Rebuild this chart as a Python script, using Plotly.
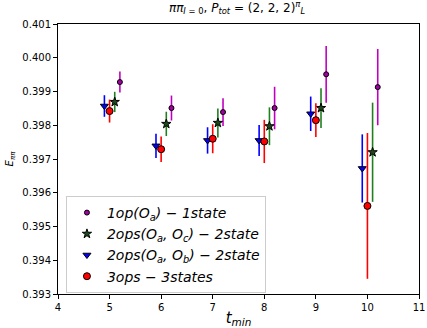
import plotly.graph_objects as go

tmin = [5, 6, 7, 8, 9, 10]

# 1op(Oa) - 1state
e1 = [0.39928, 0.39851, 0.39839, 0.39851, 0.39951, 0.39913]
d1 = [0.00031, 0.00037, 0.00041, 0.00063, 0.00084, 0.00113]
# 2ops(Oa,Oc) - 2state
e2 = [0.39869, 0.39804, 0.39807, 0.39797, 0.39851, 0.39720]
d2 = [0.00030, 0.00036, 0.00043, 0.00056, 0.00059, 0.00147]
# 2ops(Oa,Ob) - 2state
e3 = [0.39857, 0.39739, 0.39755, 0.39755, 0.39834, 0.39672]
d3 = [0.00032, 0.00036, 0.00039, 0.00046, 0.00051, 0.00101]
# 3ops - 3states
e4 = [0.39842, 0.39729, 0.39760, 0.39752, 0.39815, 0.39561]
d4 = [0.00034, 0.00038, 0.00043, 0.00064, 0.00050, 0.00216]

names = [
    "<i>1op(O<sub>a</sub>)</i> − <i>1state</i>",
    "<i>2ops(O<sub>a</sub>, O<sub>c</sub>)</i> − <i>2state</i>",
    "<i>2ops(O<sub>a</sub>, O<sub>b</sub>)</i> − <i>2state</i>",
    "<i>3ops</i> − <i>3states</i>",
]

series = [
    (e1, d1, 0.2, "#c000c0", "#a000a0", "circle", 5),
    (e2, d2, 0.1, "#208020", "#1a4a1a", "star", 7),
    (e3, d3, -0.1, "#0000ff", "#0000ff", "triangle-down", 7),
    (e4, d4, 0.0, "#ff0000", "#ff0000", "circle", 7),
]

fig = go.Figure()
for (e, d, off, col, mcol, sym, sz), nm in zip(series, names):
    fig.add_trace(go.Scatter(
        x=[t + off for t in tmin], y=e, mode="markers", name=nm,
        marker=dict(symbol=sym, size=sz, color=mcol, line=dict(color="black", width=1)),
        error_y=dict(type="data", array=d, visible=True, color=col, thickness=1.6, width=0),
    ))

fig.update_layout(
    width=427, height=328,
    margin=dict(l=58, r=8, t=24, b=34),
    paper_bgcolor="white", plot_bgcolor="white",
    font=dict(family="DejaVu Sans", size=10, color="black"),
    title=dict(
        text="<i>ππ</i><sub><i>I</i> = 0</sub>, <i>P</i><sub><i>tot</i></sub> = (2, 2, 2)<sup><i>π</i></sup><sub><i>L</i></sub>",
        x=0.555, xanchor="center", y=0.99, yanchor="top", font=dict(size=12),
    ),
    xaxis=dict(
        range=[4, 11], tickmode="linear", tick0=4, dtick=1, automargin=False,
        showline=True, linecolor="black", linewidth=1, mirror=True,
        ticks="outside", ticklen=4, tickcolor="black", showgrid=False, zeroline=False,
        title=dict(text="<i>t<sub>min</sub></i>", font=dict(size=15), standoff=0),
    ),
    yaxis=dict(
        range=[0.393, 0.401], tickmode="linear", tick0=0.393, dtick=0.001, tickformat=".3f",
        automargin=False,
        showline=True, linecolor="black", linewidth=1, mirror=True,
        ticks="outside", ticklen=4, tickcolor="black", showgrid=False, zeroline=False,
        title=dict(text="<i>E<sub>ππ</sub></i>", font=dict(size=10), standoff=6),
    ),
    legend=dict(
        x=0.022, y=0.363, xanchor="left", yanchor="top",
        bgcolor="white", bordercolor="#cccccc", borderwidth=1,
        font=dict(size=14), itemsizing="trace", tracegroupgap=0,
    ),
)

fig.write_html("out.html", config={"displayModeBar": False},
               post_script="document.body.style.margin='0';")
